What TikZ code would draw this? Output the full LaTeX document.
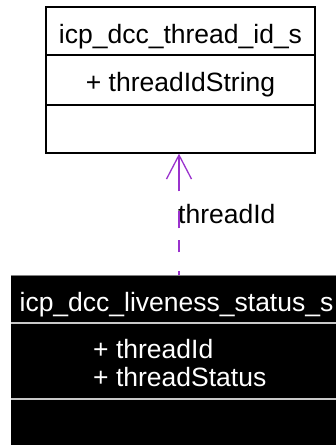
\documentclass[tikz,border=0pt]{standalone}
\usepackage{fontspec}
\setmainfont{Liberation Sans}
\usetikzlibrary{arrows.meta}
\definecolor{depcol}{HTML}{9A32CD}
\definecolor{sepgray}{HTML}{C8C8C8}
\tikzset{
  txt/.style={font=\fontsize{26.5}{30}\selectfont, inner sep=0pt, anchor=base},
  classbox/.style={draw, inner sep=0pt, line width=1.3pt},
  dep/.style={depcol, line width=1.3pt, dash pattern=on 4pt off 19pt on 12pt off 12pt on 17pt off 20pt on 60pt,
    -{Straight Barb[length=24pt,width=25pt,line width=1.3pt]}}
}
\begin{document}
\begin{tikzpicture}[x=1pt,y=-1pt]
\useasboundingbox (0,0) rectangle (336,445);
% top class
\node[classbox, fill=white, minimum width=269pt, minimum height=146pt] (tbox) at (180.5,80) {};
\draw[line width=1.3pt] (tbox.west |- 0,55) -- (tbox.east |- 0,55);
\draw[line width=1.3pt] (tbox.west |- 0,105) -- (tbox.east |- 0,105);
\node[txt] (ttitle) at (180.5,43) {icp\_dcc\_thread\_id\_s};
\node[txt] (tattr) at (180.5,91) {+ threadIdString};
% bottom class
\node[classbox, draw=black, fill=black, minimum width=336pt, minimum height=175pt] (bbox) at (179.5,363.5) {};
\draw[gray, line width=0.8pt] (bbox.north west) -- (bbox.north east);
\draw[sepgray, line width=1.3pt] (bbox.west |- 0,323) -- (bbox.east |- 0,323);
\draw[sepgray, line width=1.3pt] (bbox.west |- 0,399) -- (bbox.east |- 0,399);
\node[txt, white] (btitle) at (176.5,311) {icp\_dcc\_liveness\_status\_s};
\node[txt, white, anchor=base west] (battr1) at (93,358) {+ threadId};
\node[txt, white, anchor=base west] (battr2) at (93,386) {+ threadStatus};
% dependency
\coordinate (depstart) at ([xshift=-0.5pt]bbox.north);
\draw[dep] (depstart) -- (depstart |- tbox.south);
\node[txt, anchor=base west] (lbl) at (178,223) {threadId};
\end{tikzpicture}
\end{document}
